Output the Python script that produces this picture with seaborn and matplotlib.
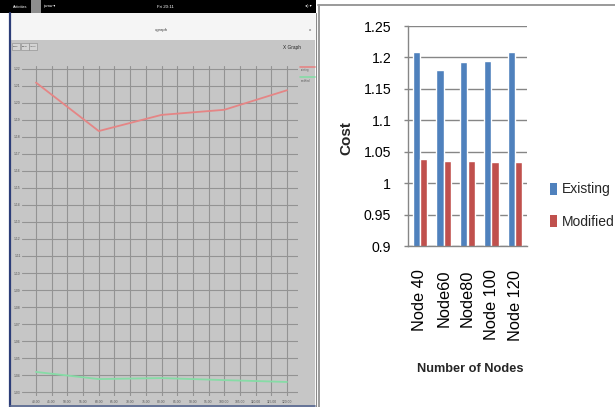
import numpy as np
import pandas as pd
import matplotlib
matplotlib.use("Agg")
import matplotlib.pyplot as plt
import seaborn as sns
from matplotlib.patches import Rectangle

# ---------------- data: bar chart (right) ----------------
nodes = ["Node 40", "Node60", "Node80", "Node 100", "Node 120"]
existing_cost = [1.209, 1.180, 1.192, 1.194, 1.208]
modified_cost = [1.039, 1.036, 1.036, 1.034, 1.034]
series_names = ["Existing", "Modified"]
bar_yticks = [0.9, 0.95, 1.0, 1.05, 1.1, 1.15, 1.2, 1.25]
bar_ylabels = ["0.9", "0.95", "1", "1.05", "1.1", "1.15", "1.2", "1.25"]

# ---------------- data: xgraph screenshot (left) ----------------
xg_nodes = [40, 60, 80, 100, 120]
xg_existing = [1.212, 1.1835, 1.193, 1.196, 1.2075]
xg_modified = [1.0418, 1.0376, 1.0382, 1.0370, 1.0359]
xg_xticks = [40, 45, 50, 55, 60, 65, 70, 75, 80, 85, 90, 95, 100, 105, 110, 115, 120]
xg_xlabels = ["40.00", "45.00", "50.00", "55.00", "60.00", "65.00", "70.00", "75.00",
              "80.00", "85.00", "90.00", "95.00", "100.00", "105.00", "110.00",
              "115.00", "120.00"]
xg_yticks = [1.03, 1.04, 1.05, 1.06, 1.07, 1.08, 1.09, 1.10, 1.11, 1.12,
             1.13, 1.14, 1.15, 1.16, 1.17, 1.18, 1.19, 1.20, 1.21, 1.22]
xg_ylabels = ["1.03", "1.04", "1.05", "1.06", "1.07", "1.08", "1.09", "1.10", "1.11", "1.12",
              "1.13", "1.14", "1.15", "1.16", "1.17", "1.18", "1.19", "1.20", "1.21", "1.22"]
xg_series = ["existing", "modified"]

sns.set_theme(style="white")
plt.rcParams["font.family"] = ["Liberation Sans", "DejaVu Sans"]

W, H = 615, 407
fig = plt.figure(figsize=(W / 100, H / 100), dpi=100)
fig.patch.set_facecolor("white")

# ---------- background (pixel coordinates) ----------
bg = fig.add_axes([0, 0, 1, 1], zorder=0)
bg.set_xlim(0, W)
bg.set_ylim(H, 0)
bg.axis("off")

bg.add_patch(Rectangle((10, 40), 305, 367, fc="#c6c6c6", ec="none"))
bg.add_patch(Rectangle((0, 0), 316, 13, fc="black", ec="none"))
bg.add_patch(Rectangle((31, 0), 10, 13, fc="#8e8e8e", ec="none"))
bg.add_patch(Rectangle((10, 13), 305, 27, fc="#f5f5f5", ec="none"))
bg.plot([10, 10], [13, 407], color="#2c3d78", lw=1.6)
bg.plot([10, 315], [405.5, 405.5], color="#55658f", lw=1.2)
bg.plot([315.5, 315.5], [13, 407], color="#8a8a8a", lw=0.8)
bg.plot([318.5, 318.5], [5, 407], color="#9a9a9a", lw=1.4)
bg.plot([318, 615], [5, 5], color="#9a9a9a", lw=1.4)

bg.text(13, 6.5, "Activities", color="white", fontsize=2.6, va="center")
bg.text(43, 6.5, "javaw \u25be", color="white", fontsize=2.6, va="center")
bg.text(165, 6.5, "Fri 20:11", color="white", fontsize=3.2, va="center", ha="center")
bg.text(312, 6.5, "\u25c2) \u25be", color="white", fontsize=3.0, va="center", ha="right")
bg.text(162, 30, "xgraph", color="#444444", fontsize=3.2, va="center", ha="center")
bg.text(310, 30, "x", color="#444444", fontsize=3.2, va="center", ha="center")
for i, lab in enumerate(["Close", "Hdcpy", "About"]):
    bg.add_patch(Rectangle((12 + i * 8.5, 43), 8, 7, fc="#d4d4d4", ec="#888888", lw=0.4))
    bg.text(16 + i * 8.5, 46.5, lab, fontsize=1.5, ha="center", va="center", color="#333333")
bg.text(292, 47.5, "X Graph", fontsize=3.4, ha="center", va="center", color="#222222")
bg.plot([300, 315], [66.5, 66.5], color="#e58585", lw=1.2)
bg.text(301, 70.5, "existing", fontsize=1.8, va="center", color="#555555")
bg.plot([300, 315], [76.5, 76.5], color="#86dca6", lw=1.2)
bg.text(301, 80.5, "modified", fontsize=1.8, va="center", color="#555555")

# ---------- left: xgraph line chart ----------
ax1 = fig.add_axes([22 / W, (H - 396) / H, 276 / W, 330 / H], zorder=1)
ax1.set_facecolor("none")
df_line = pd.DataFrame({
    "node": xg_nodes * 2,
    "value": xg_existing + xg_modified,
    "series": [xg_series[0]] * len(xg_nodes) + [xg_series[1]] * len(xg_nodes),
})
sns.lineplot(data=df_line, x="node", y="value", hue="series",
             palette=["#e58585", "#86dca6"], linewidth=1.3, legend=False, ax=ax1)
ax1.set_xlim(35.54, 123.5)
ax1.set_ylim(1.02765, 1.22176)
ax1.set_xticks(xg_xticks)
ax1.set_xticklabels(xg_xlabels)
ax1.set_yticks(xg_yticks)
ax1.set_yticklabels(xg_ylabels)
ax1.grid(True, color="#939393", lw=0.8)
ax1.set_axisbelow(True)
for s in ax1.spines.values():
    s.set_visible(False)
ax1.tick_params(axis="both", length=0, labelsize=2.4, labelcolor="#555555")
ax1.tick_params(axis="y", pad=1)
ax1.tick_params(axis="x", pad=3)
ax1.set_xlabel("")
ax1.set_ylabel("")

# ---------- right: bar chart ----------
ax2 = fig.add_axes([408 / W, (H - 246) / H, 119 / W, 220 / H], zorder=1)
df_bar = pd.DataFrame({
    "node": nodes * 2,
    "cost": existing_cost + modified_cost,
    "series": [series_names[0]] * len(nodes) + [series_names[1]] * len(nodes),
})
bar_colors = ["#4f81bd", "#c0504d"]
sns.barplot(data=df_bar, x="node", y="cost", hue="series", palette=bar_colors,
            width=0.62, saturation=1, legend=False, ax=ax2)
ax2.set_ylim(0.9, 1.25)
ax2.set_xlim(-0.5, len(nodes) - 0.5)
ax2.set_yticks(bar_yticks)
ax2.set_yticklabels(bar_ylabels, fontsize=10.2, color="black")
ax2.set_xticks(range(len(nodes)))
ax2.set_xticklabels(nodes, rotation=90, fontsize=11.8, color="black", va="top", ha="center")
ax2.set_xticks(np.arange(-0.5, len(nodes), 1.0), minor=True)
ax2.tick_params(axis="x", which="major", length=0, pad=17)
ax2.tick_params(axis="x", which="minor", length=4, width=1, color="#868686", direction="out")
ax2.tick_params(axis="y", length=3, width=1, color="#868686", direction="out", pad=9,
                left=True)
ax2.yaxis.grid(True, color="#868686", lw=1)
ax2.xaxis.grid(False)
ax2.set_axisbelow(True)
for side in ["top", "right"]:
    ax2.spines[side].set_visible(False)
for side in ["left", "bottom"]:
    ax2.spines[side].set_color("#868686")
    ax2.spines[side].set_linewidth(1)
ax2.set_xlabel("")
ax2.set_ylabel("")

fig.text(470 / W, 1 - 369 / H, "Number of Nodes", ha="center", va="center",
         fontsize=9.2, fontweight="bold")
fig.text(346 / W, 1 - 138 / H, "Cost", ha="center", va="center", rotation=90,
         fontsize=11, fontweight="bold")

handles = [Rectangle((0, 0), 1, 1, fc=c, ec="none") for c in bar_colors]
fig.legend(handles, series_names, loc="center left", bbox_to_anchor=(550 / W, 1 - 205.5 / H),
           frameon=False, handlelength=0.5, handleheight=1.0, handletextpad=0.35,
           labelspacing=1.3, borderpad=0, borderaxespad=0,
           prop={"size": 10})

fig.savefig("out.png", dpi=100)
